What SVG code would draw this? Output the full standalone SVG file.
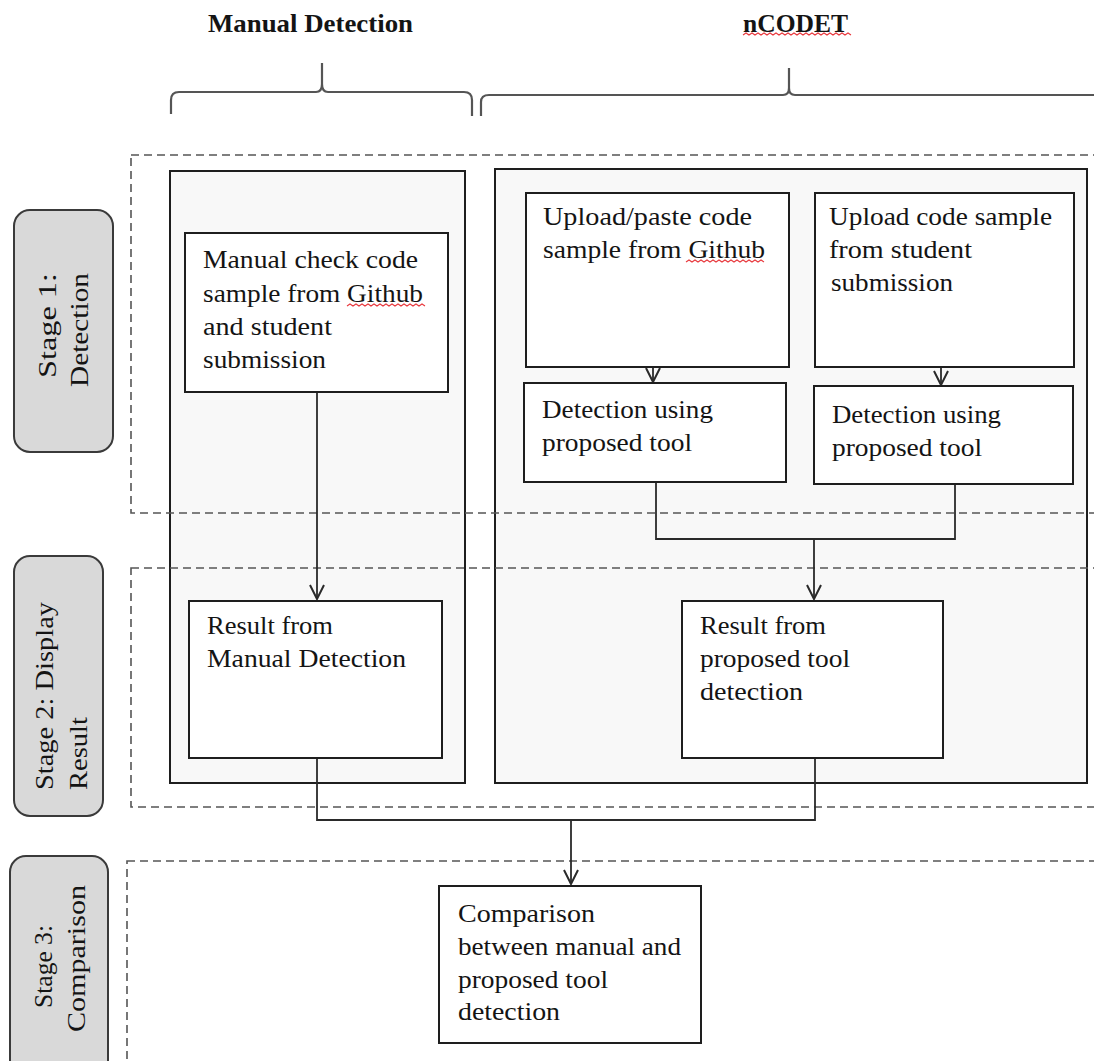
<svg xmlns="http://www.w3.org/2000/svg" width="1094" height="1061" viewBox="0 0 1094 1061">
<style>
  .t { font-family: "Liberation Serif", "Times New Roman", serif; font-size: 26px; fill: #141414; }
  .h { font-family: "Liberation Serif", "Times New Roman", serif; font-size: 26px; font-weight: bold; fill: #141414; }
  .box { fill: #ffffff; stroke: #1e1e1e; stroke-width: 2; }
  .cont { fill: #f8f8f8; stroke: #1e1e1e; stroke-width: 2; }
  .stage { fill: #d9d9d9; stroke: #3a3a3a; stroke-width: 2; }
  .dash { fill: none; stroke: #555; stroke-width: 1.6; stroke-dasharray: 8 5; }
  .brace { fill: none; stroke: #555; stroke-width: 2.2; }
  .conn { fill: none; stroke: #2a2a2a; stroke-width: 1.8; }
  .squig { fill: none; stroke: #e8383d; stroke-width: 1.1; }
</style>
<defs>
  <marker id="arr" viewBox="-16 -10 18 20" markerWidth="18" markerHeight="20" markerUnits="userSpaceOnUse" orient="auto" refX="0" refY="0">
    <path d="M-14,-7 L0,0 L-14,7" fill="none" stroke="#2a2a2a" stroke-width="2"/>
  </marker>
</defs>
<rect width="1094" height="1061" fill="#ffffff"/>

<!-- Headers and braces -->
<g id="header-manual">
  <text class="h" x="208" y="32" textLength="205" lengthAdjust="spacingAndGlyphs">Manual Detection</text>
  <path class="brace" d="M171,114 V100 Q171,92 179,92 H316 Q322,92 322,84 V63 M322,84 Q322,92 328,92 H464 Q472,92 472,100 V116"/>
</g>
<g id="header-ncodet">
  <text class="h" x="743" y="32" textLength="105" lengthAdjust="spacingAndGlyphs">nCODET</text>
  <path class="squig" d="M743,35 l3,-2 l3,2 l3,-2 l3,2 l3,-2 l3,2 l3,-2 l3,2 l3,-2 l3,2 l3,-2 l3,2 l3,-2 l3,2 l3,-2 l3,2 l3,-2 l3,2 l3,-2 l3,2 l3,-2 l3,2 l3,-2 l3,2 l3,-2 l3,2 l3,-2 l3,2 l3,-2 l3,2 l3,-2 l3,2 l3,-2 l3,2 l3,-2 l3,2"/>
  <path class="brace" d="M481,116 V102 Q481,95 489,95 H783 Q789,95 789,88 V68 M789,88 Q789,95 795,95 H1094"/>
</g>

<!-- Stage labels -->
<g id="stage1">
  <rect class="stage" x="14" y="210" width="99" height="242" rx="16"/>
  <text class="t" transform="translate(56,378) rotate(-90)" textLength="105" lengthAdjust="spacingAndGlyphs">Stage 1:</text>
  <text class="t" transform="translate(88,387) rotate(-90)" textLength="114" lengthAdjust="spacingAndGlyphs">Detection</text>
</g>
<g id="stage2">
  <rect class="stage" x="14" y="556" width="89" height="260" rx="16"/>
  <text class="t" transform="translate(53,790) rotate(-90)" textLength="188" lengthAdjust="spacingAndGlyphs">Stage 2: Display</text>
  <text class="t" transform="translate(87,790) rotate(-90)" textLength="73" lengthAdjust="spacingAndGlyphs">Result</text>
</g>
<g id="stage3">
  <rect class="stage" x="10" y="856" width="98" height="230" rx="16"/>
  <text class="t" transform="translate(52,1008) rotate(-90)" textLength="83" lengthAdjust="spacingAndGlyphs">Stage 3:</text>
  <text class="t" transform="translate(85,1032) rotate(-90)" textLength="147" lengthAdjust="spacingAndGlyphs">Comparison</text>
</g>

<!-- Containers -->
<g id="manual-container">
  <rect class="cont" x="170" y="171" width="295" height="612"/>
</g>
<g id="ncodet-container">
  <rect class="cont" x="495" y="169" width="592" height="614"/>
</g>

<!-- Stage regions (dashed) -->
<g id="stage-regions">
  <rect class="dash" x="131" y="155" width="980" height="358"/>
  <rect class="dash" x="131" y="568" width="980" height="239"/>
  <rect class="dash" x="127" y="861" width="984" height="220"/>
</g>

<!-- Connectors -->
<g id="connectors">
  <path class="conn" d="M317,392 V599" marker-end="url(#arr)"/>
  <path class="conn" d="M653,367 V382" marker-end="url(#arr)"/>
  <path class="conn" d="M941,367 V385" marker-end="url(#arr)"/>
  <path class="conn" d="M656,482 V539 H955 V484"/>
  <path class="conn" d="M814,539 V599" marker-end="url(#arr)"/>
  <path class="conn" d="M317,758 V820 H815 V758"/>
  <path class="conn" d="M571,820 V884" marker-end="url(#arr)"/>
</g>

<!-- Nodes -->
<g id="manual-check">
  <rect class="box" x="185" y="233" width="263" height="159"/>
  <text class="t" x="203" y="268" textLength="215" lengthAdjust="spacingAndGlyphs">Manual check code</text>
  <text class="t" x="203" y="302" textLength="220" lengthAdjust="spacingAndGlyphs">sample from Github</text>
  <text class="t" x="203" y="335" textLength="129" lengthAdjust="spacingAndGlyphs">and student</text>
  <text class="t" x="203" y="368" textLength="123" lengthAdjust="spacingAndGlyphs">submission</text>
  <path class="squig" d="M347,306 l3,-2 l3,2 l3,-2 l3,2 l3,-2 l3,2 l3,-2 l3,2 l3,-2 l3,2 l3,-2 l3,2 l3,-2 l3,2 l3,-2 l3,2 l3,-2 l3,2 l3,-2 l3,2 l3,-2 l3,2 l3,-2 l3,2 l3,-2 l3,2"/>
</g>
<g id="upload-github">
  <rect class="box" x="526" y="193" width="263" height="174"/>
  <text class="t" x="543" y="225" textLength="209" lengthAdjust="spacingAndGlyphs">Upload/paste code</text>
  <text class="t" x="543" y="258" textLength="222" lengthAdjust="spacingAndGlyphs">sample from Github</text>
  <path class="squig" d="M686,262 l3,-2 l3,2 l3,-2 l3,2 l3,-2 l3,2 l3,-2 l3,2 l3,-2 l3,2 l3,-2 l3,2 l3,-2 l3,2 l3,-2 l3,2 l3,-2 l3,2 l3,-2 l3,2 l3,-2 l3,2 l3,-2 l3,2 l3,-2 l3,2"/>
</g>
<g id="upload-student">
  <rect class="box" x="815" y="193" width="259" height="174"/>
  <text class="t" x="829" y="225" textLength="223" lengthAdjust="spacingAndGlyphs">Upload code sample</text>
  <text class="t" x="829" y="258" textLength="143" lengthAdjust="spacingAndGlyphs">from student</text>
  <text class="t" x="831" y="291" textLength="122" lengthAdjust="spacingAndGlyphs">submission</text>
</g>
<g id="detect-left">
  <rect class="box" x="524" y="383" width="262" height="99"/>
  <text class="t" x="542" y="418" textLength="171" lengthAdjust="spacingAndGlyphs">Detection using</text>
  <text class="t" x="542" y="451" textLength="150" lengthAdjust="spacingAndGlyphs">proposed tool</text>
</g>
<g id="detect-right">
  <rect class="box" x="814" y="386" width="259" height="98"/>
  <text class="t" x="832" y="423" textLength="169" lengthAdjust="spacingAndGlyphs">Detection using</text>
  <text class="t" x="832" y="456" textLength="150" lengthAdjust="spacingAndGlyphs">proposed tool</text>
</g>
<g id="result-manual">
  <rect class="box" x="189" y="601" width="253" height="157"/>
  <text class="t" x="207" y="634" textLength="126" lengthAdjust="spacingAndGlyphs">Result from</text>
  <text class="t" x="207" y="667" textLength="199" lengthAdjust="spacingAndGlyphs">Manual Detection</text>
</g>
<g id="result-tool">
  <rect class="box" x="682" y="601" width="261" height="157"/>
  <text class="t" x="700" y="634" textLength="126" lengthAdjust="spacingAndGlyphs">Result from</text>
  <text class="t" x="700" y="667" textLength="150" lengthAdjust="spacingAndGlyphs">proposed tool</text>
  <text class="t" x="700" y="700" textLength="103" lengthAdjust="spacingAndGlyphs">detection</text>
</g>
<g id="comparison">
  <rect class="box" x="439" y="886" width="262" height="157"/>
  <text class="t" x="458" y="922" textLength="137" lengthAdjust="spacingAndGlyphs">Comparison</text>
  <text class="t" x="458" y="955" textLength="223" lengthAdjust="spacingAndGlyphs">between manual and</text>
  <text class="t" x="458" y="988" textLength="150" lengthAdjust="spacingAndGlyphs">proposed tool</text>
  <text class="t" x="458" y="1020" textLength="102" lengthAdjust="spacingAndGlyphs">detection</text>
</g>
</svg>
